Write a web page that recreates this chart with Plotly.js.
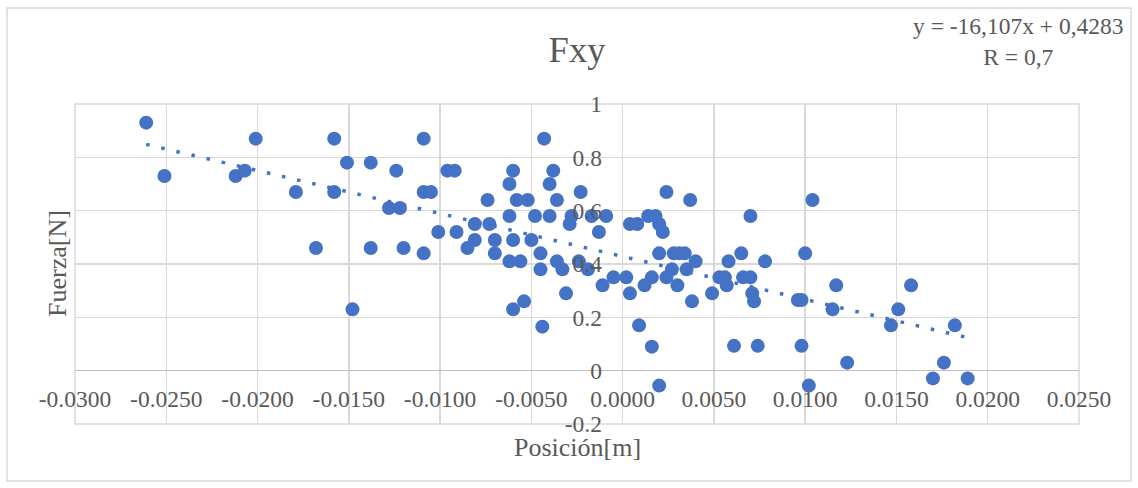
<!DOCTYPE html>
<html><head><meta charset="utf-8">
<script src="https://cdn.plot.ly/plotly-3.0.1.min.js"></script>
<style>html,body{margin:0;padding:0;background:#fff}#chart{width:1138px;height:488px}</style>
</head><body><div id="chart"></div>
<script>
// Posición [m]
const posicion = [
 -0.0261,-0.0251,-0.0212,-0.0207,-0.0201,-0.0179,-0.0168,-0.0158,-0.0158,-0.0151,
 -0.0148,-0.0138,-0.0138,-0.0124,-0.0128,-0.0122,-0.0120,-0.0109,-0.0109,-0.0105,
 -0.0109,-0.0101,-0.0096,-0.0092,-0.0091,-0.0085,-0.0081,-0.0081,-0.0074,-0.0073,
 -0.0070,-0.0070,-0.0062,-0.0062,-0.0060,-0.0060,-0.0062,-0.0060,-0.0058,-0.0056,
 -0.0054,-0.0052,-0.0050,-0.0048,-0.0045,-0.0045,-0.0044,-0.0043,-0.0040,-0.0040,
 -0.0038,-0.0036,-0.0036,-0.0033,-0.0031,-0.0029,-0.0028,-0.0024,-0.0023,-0.0019,
 -0.0017,-0.0013,-0.0011,-0.0009,-0.0005,0.0002,0.0004,0.0004,0.0008,0.0009,
 0.0012,0.0014,0.0016,0.0016,0.0018,0.0020,0.0020,0.0020,0.0022,0.0024,
 0.0024,0.0027,0.0028,0.0030,0.0031,0.0034,0.0035,0.0037,0.0038,0.0040,
 0.0049,0.0053,0.0056,0.0057,0.0058,0.0061,0.0065,0.0066,0.0070,0.0070,
 0.0071,0.0072,0.0074,0.0078,0.0096,0.0098,0.0098,0.0100,0.0102,0.0104,
 0.0115,0.0117,0.0123,0.0147,0.0151,0.0158,0.0170,0.0176,0.0182,0.0189
];
// Fuerza [N]
const fuerza = [
 0.93,0.73,0.73,0.75,0.87,0.67,0.46,0.87,0.67,0.78,
 0.23,0.78,0.46,0.75,0.61,0.61,0.46,0.87,0.67,0.67,
 0.44,0.52,0.75,0.75,0.52,0.46,0.55,0.49,0.64,0.55,
 0.49,0.44,0.58,0.70,0.75,0.49,0.41,0.23,0.64,0.41,
 0.26,0.64,0.49,0.58,0.44,0.38,0.165,0.87,0.70,0.58,
 0.75,0.64,0.41,0.38,0.29,0.55,0.58,0.41,0.67,0.38,
 0.58,0.52,0.32,0.58,0.35,0.35,0.55,0.29,0.55,0.17,
 0.32,0.58,0.35,0.09,0.58,0.55,0.44,-0.056,0.52,0.67,
 0.35,0.38,0.44,0.32,0.44,0.44,0.38,0.64,0.26,0.41,
 0.29,0.35,0.35,0.32,0.41,0.093,0.44,0.35,0.35,0.58,
 0.29,0.26,0.093,0.41,0.265,0.265,0.093,0.44,-0.056,0.64,
 0.23,0.32,0.03,0.17,0.23,0.32,-0.029,0.03,0.17,-0.029
];
const xTickVals = [-0.03,-0.025,-0.02,-0.015,-0.01,-0.005,0,0.005,0.01,0.015,0.02,0.025];
const xTickText = ["-0.0300","-0.0250","-0.0200","-0.0150","-0.0100","-0.0050","0.0000","0.0050","0.0100","0.0150","0.0200","0.0250"];
const yTickVals = [-0.2,0,0.2,0.4,0.6,0.8,1];
const yTickText = ["-0.2","0","0.2","0.4","0.6","0.8","1"];
const trendSlope = -16.107;
const trendIntercept = 0.4283;
const chartTitle = "Fxy";
const xTitle = "Posición[m]";
const yTitle = "Fuerza[N]";
const eqText = "y = -16,107x + 0,4283<br>R = 0,7";

const xMin = Math.min(...posicion), xMax = Math.max(...posicion);
const trendX = [xMin, xMax];
const trendY = trendX.map(v => trendSlope * v + trendIntercept);

const blue = '#4472C4';
const grey = '#595959';
const serif = 'Liberation Serif, Times New Roman, serif';

const traces = [
  {x: posicion, y: fuerza, type: 'scatter', mode: 'markers',
   marker: {color: blue, size: 14}, hoverinfo: 'none', showlegend: false},
  {x: trendX, y: trendY, type: 'scatter', mode: 'lines',
   line: {color: blue, width: 3.5, dash: '3.5px,12px'}, hoverinfo: 'none', showlegend: false}
];

const layout = {
  width: 1138, height: 488,
  margin: {l: 75, r: 59, t: 104, b: 64, pad: 0},
  paper_bgcolor: '#ffffff', plot_bgcolor: '#ffffff',
  showlegend: false,
  title: {text: chartTitle, font: {family: serif, size: 36.5, color: grey},
          x: 0.5, xref: 'paper', xanchor: 'center', y: 1 - 49/488, yref: 'container', yanchor: 'middle'},
  xaxis: {range: [-0.03, 0.025], tickvals: xTickVals, ticktext: xTickText,
          showgrid: true, gridcolor: '#d9d9d9', gridwidth: 1.5, zeroline: false, showline: false,
          anchor: 'free', position: 0.2/1.2, ticks: 'outside', ticklen: 7, tickcolor: 'rgba(0,0,0,0)',
          tickfont: {family: serif, size: 23.5, color: grey}, fixedrange: true},
  yaxis: {range: [-0.2, 1], tickvals: yTickVals, ticktext: yTickText,
          showgrid: true, gridcolor: '#d9d9d9', gridwidth: 1.5,
          zeroline: true, zerolinecolor: '#bfbfbf', zerolinewidth: 1.5, showline: false,
          anchor: 'free', position: 0.03/0.055, side: 'left', ticks: 'outside', ticklen: 16,
          tickcolor: 'rgba(0,0,0,0)', tickfont: {family: serif, size: 23.5, color: grey}, fixedrange: true},
  shapes: [
    {type: 'rect', xref: 'paper', yref: 'paper', x0: 0, x1: 1, y0: 0, y1: 1,
     line: {color: '#d9d9d9', width: 1.5}, layer: 'below'},
    {type: 'rect', xref: 'paper', yref: 'paper', x0: (7-75)/1004, x1: (1131-75)/1004,
     y0: (424-481)/320, y1: (424-8)/320, line: {color: '#d9d9d9', width: 1.5}, layer: 'below'}
  ],
  annotations: [
    {text: xTitle, xref: 'paper', yref: 'paper', x: 0.5, y: (424-447)/320, xanchor: 'center', yanchor: 'middle',
     showarrow: false, font: {family: serif, size: 26, color: grey}},
    {text: yTitle, xref: 'paper', yref: 'paper', x: (57-75)/1004, y: 0.5, xanchor: 'center', yanchor: 'middle',
     textangle: -90, showarrow: false, font: {family: serif, size: 26, color: grey}},
    {text: eqText, xref: 'paper', yref: 'paper', x: (1018-75)/1004, y: (424-41)/320, xanchor: 'center', yanchor: 'middle',
     align: 'center', showarrow: false, font: {family: serif, size: 23.5, color: grey}}
  ]
};

Plotly.newPlot('chart', traces, layout, {displayModeBar: false, staticPlot: true});
</script>
</body></html>
